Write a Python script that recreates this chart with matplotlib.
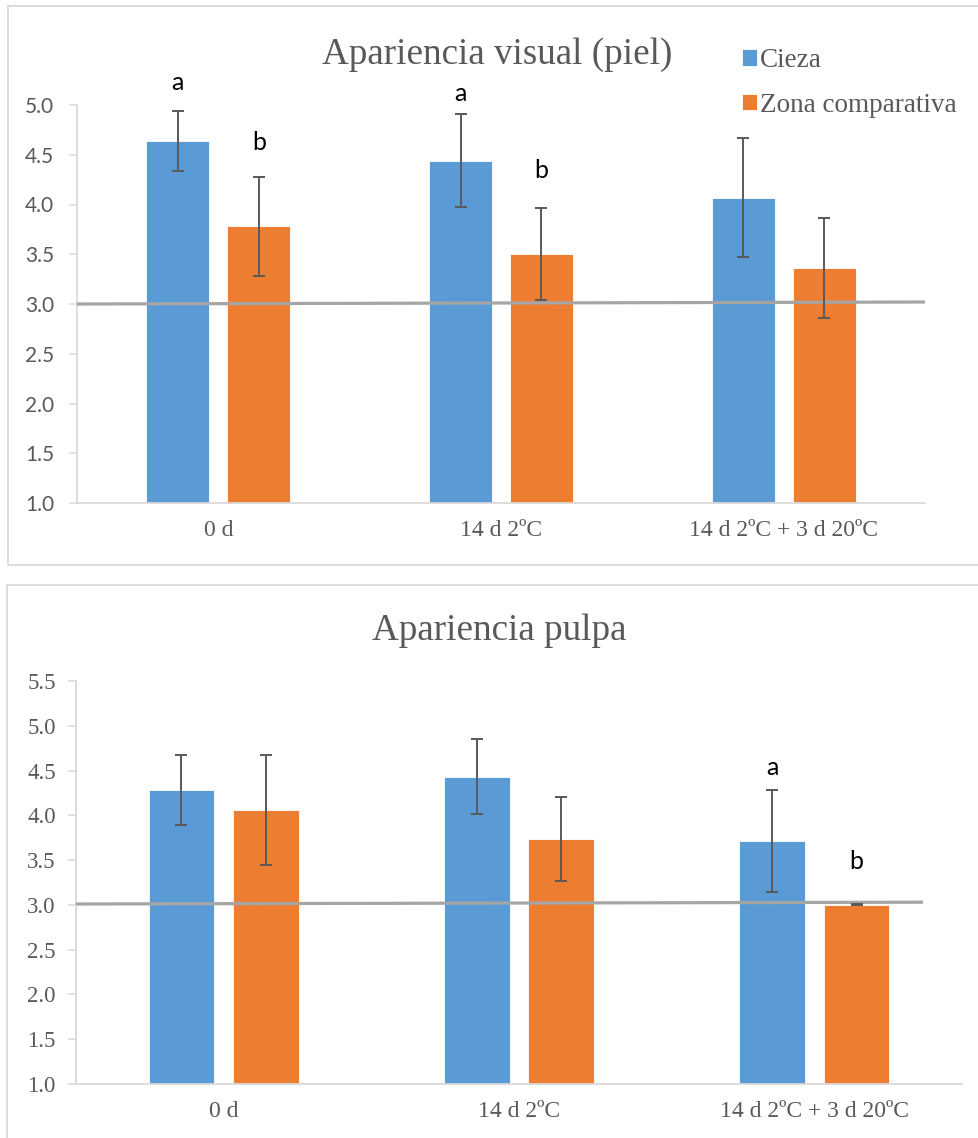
import matplotlib
matplotlib.use("Agg")
import matplotlib.pyplot as plt
from matplotlib.patches import Rectangle
import numpy as np

# ---- data ----
categories = ["0 d", "14 d 2ºC", "14 d 2ºC + 3 d 20ºC"]
series_names = ["Cieza", "Zona comparativa"]

skin_cieza = [4.64, 4.44, 4.07]
skin_cieza_err = [0.30, 0.47, 0.60]
skin_zona = [3.78, 3.50, 3.36]
skin_zona_err = [0.50, 0.46, 0.50]

pulp_cieza = [4.28, 4.43, 3.71]
pulp_cieza_err = [0.39, 0.42, 0.57]
pulp_zona = [4.06, 3.74, 3.00]
pulp_zona_err = [0.61, 0.47, 0.005]

# acceptability threshold line (start value, end value)
skin_threshold = [3.00, 3.02]
pulp_threshold = [3.01, 3.03]

# significance letters: (category index, series index, letter)
skin_letters = [(0, 0, "a"), (0, 1, "b"), (1, 0, "a"), (1, 1, "b")]
pulp_letters = [(2, 0, "a"), (2, 1, "b")]

# ---- style ----
BLUE = "#5B9BD5"
ORANGE = "#ED7D31"
TXT = "#595959"
AXC = "#D9D9D9"
ERRC = "#595959"
REFC = "#A5A5A5"
SERIF = ["Liberation Serif", "DejaVu Serif"]
SANS = ["Lato", "DejaVu Sans"]

W, H = 979, 1138
DPI = 100
fig = plt.figure(figsize=(W / DPI, H / DPI), dpi=DPI)
fig.patch.set_facecolor("white")


def px_axes(left, right, top, bottom):
    """Axes rectangle from pixel edges (origin at top-left)."""
    return fig.add_axes([left / W, 1 - bottom / H, (right - left) / W, (bottom - top) / H])


def px_to_fig(x, y):
    return x / W, 1 - y / H


# panel frames
for (x0, y0, x1, y1) in [(8, 5.5, 990, 565), (7, 585, 990, 1150)]:
    fx0, fy1 = px_to_fig(x0, y0)
    fx1, fy0 = px_to_fig(x1, y1)
    fig.patches.append(Rectangle((fx0, fy0), fx1 - fx0, fy1 - fy0, transform=fig.transFigure,
                                 fill=False, edgecolor=AXC, linewidth=1.3, clip_on=False))

bar_w = 0.223
offs = 0.143
x = np.arange(len(categories))


def draw_panel(ax, cieza, cieza_err, zona, zona_err, ylim, yticks, tick_font, tick_size,
               tick_pad, threshold, thr_end, letters, letter_y):
    b1 = ax.bar(x - offs, cieza, bar_w, bottom=0, color=BLUE, edgecolor="white",
                linewidth=0.6, label=series_names[0], zorder=2)
    b2 = ax.bar(x + offs, zona, bar_w, bottom=0, color=ORANGE, edgecolor="white",
                linewidth=0.6, label=series_names[1], zorder=2)
    ax.errorbar(x - offs, cieza, yerr=cieza_err, fmt="none", ecolor=ERRC, elinewidth=1.4,
                capsize=4.5, capthick=1.4, zorder=4)
    ax.errorbar(x + offs, zona, yerr=zona_err, fmt="none", ecolor=ERRC, elinewidth=1.4,
                capsize=4.5, capthick=1.4, zorder=4)
    ax.plot([-0.5, thr_end], threshold, color=REFC, linewidth=2.3, zorder=3,
            solid_capstyle="butt", clip_on=False)
    ax.set_xlim(-0.5, 2.5)
    ax.set_ylim(*ylim)
    ax.set_yticks(yticks)
    ax.set_yticklabels([f"{t:.1f}" for t in yticks], family=tick_font, size=tick_size, color=TXT)
    ax.set_xticks(x)
    ax.set_xticklabels(categories, family=SERIF, size=17, color=TXT)
    ax.tick_params(axis="x", length=0, pad=12)
    ax.tick_params(axis="y", length=5.5, width=1.1, color=AXC, pad=tick_pad)
    for s in ["top", "right"]:
        ax.spines[s].set_visible(False)
    for s in ["left", "bottom"]:
        ax.spines[s].set_color(AXC)
        ax.spines[s].set_linewidth(1.3)
    ax.patch.set_alpha(0)
    for (ci, si, txt), yy in zip(letters, letter_y):
        xx = ci - offs if si == 0 else ci + offs
        ax.text(xx, yy, txt, ha="center", va="baseline", family=SANS, size=18, color="black")
    return b1, b2


# ---- top panel: skin appearance ----
ax1 = px_axes(77, 925, 105, 503)
h1 = draw_panel(ax1, skin_cieza, skin_cieza_err, skin_zona, skin_zona_err,
                (1.0, 5.0), np.arange(1.0, 5.01, 0.5), SANS, 15, 11,
                skin_threshold, 2.5, skin_letters, [5.15, 4.55, 5.04, 4.27])
tx, ty = px_to_fig(497, 64)
fig.text(tx, ty, "Apariencia visual (piel)", ha="center", va="baseline",
         family=SERIF, size=26.7, color=TXT)
lx, ly = px_to_fig(742, 48)
ax1.legend(handles=list(h1), labels=series_names, loc="upper left",
           bbox_to_anchor=(lx, ly), bbox_transform=fig.transFigure, frameon=False,
           prop={"family": SERIF, "size": 19.5}, labelcolor=TXT,
           handlelength=0.55, handleheight=0.55, handletextpad=0.12, labelspacing=0.73,
           borderpad=0, borderaxespad=0)

# ---- bottom panel: flesh appearance ----
ax2 = px_axes(76, 962, 681, 1084)
draw_panel(ax2, pulp_cieza, pulp_cieza_err, pulp_zona, pulp_zona_err,
           (1.0, 5.5), np.arange(1.0, 5.51, 0.5), SERIF, 16.5, 9,
           pulp_threshold, 2.368, pulp_letters, [4.45, 3.40])
tx, ty = px_to_fig(499, 640)
fig.text(tx, ty, "Apariencia pulpa", ha="center", va="baseline",
         family=SERIF, size=26.7, color=TXT)

fig.savefig("out.png", dpi=DPI, facecolor="white")
